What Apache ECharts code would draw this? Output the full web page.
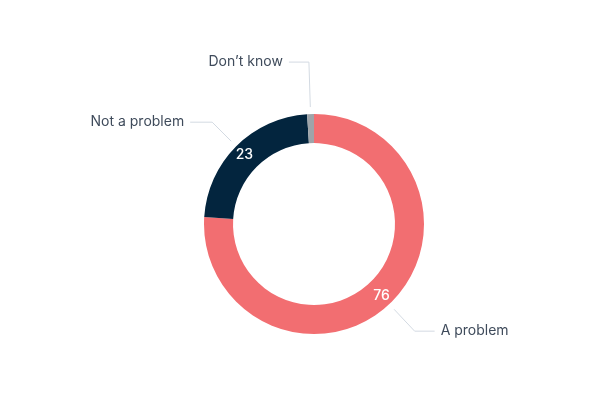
<!DOCTYPE html>
<html>
<head>
<meta charset="utf-8">
<script src="https://cdn.jsdelivr.net/npm/echarts@6/dist/echarts.min.js"></script>
<style>
  html, body { margin: 0; padding: 0; background: #fff; }
  #chart { width: 600px; height: 400px; }
</style>
</head>
<body>
<div id="chart"></div>
<script>
// answers, clockwise from 12 o'clock
var categories = ['A problem', 'Not a problem', 'Don\u2019t know'];
var values = [76, 23, 1];
var colors = ['#f26e71', '#03253e', '#9ea4a9'];
// label leader lines per slice [first segment, horizontal segment]
var lineLengths = [[30, 20], [27, 22], [45, 20]];

var font = 'Inter, "Noto Sans", sans-serif';

var ringData = categories.map(function (name, i) {
  return {
    name: name,
    value: values[i],
    itemStyle: { color: colors[i] },
    // no value label on the tiny slice
    label: { show: values[i] >= 5 }
  };
});

var nameData = categories.map(function (name, i) {
  return {
    name: name,
    value: values[i],
    labelLine: { length: lineLengths[i][0], length2: lineLengths[i][1] }
  };
});

var chart = echarts.init(document.getElementById('chart'));
chart.setOption({
  animation: false,
  series: [{
    type: 'pie',
    center: [314, 224],
    radius: [81, 110],
    startAngle: 90,
    silent: true,
    label: {
      position: 'inside',
      formatter: '{c}',
      color: '#fff',
      fontFamily: font,
      fontSize: 14,
      fontWeight: 500
    },
    labelLine: { show: false },
    data: ringData
  }, {
    // invisible ring only used to place the outside names with a small gap
    type: 'pie',
    center: [314, 224],
    radius: [116, 117],
    startAngle: 90,
    silent: true,
    avoidLabelOverlap: false,
    itemStyle: { color: 'transparent' },
    label: {
      position: 'outside',
      formatter: '{b}',
      color: '#3f4b5b',
      fontFamily: font,
      fontSize: 14,
      distanceToLabelLine: 6
    },
    labelLine: {
      show: true,
      smooth: false,
      lineStyle: { color: '#d3dae2', width: 1 }
    },
    data: nameData
  }]
});
</script>
</body>
</html>
